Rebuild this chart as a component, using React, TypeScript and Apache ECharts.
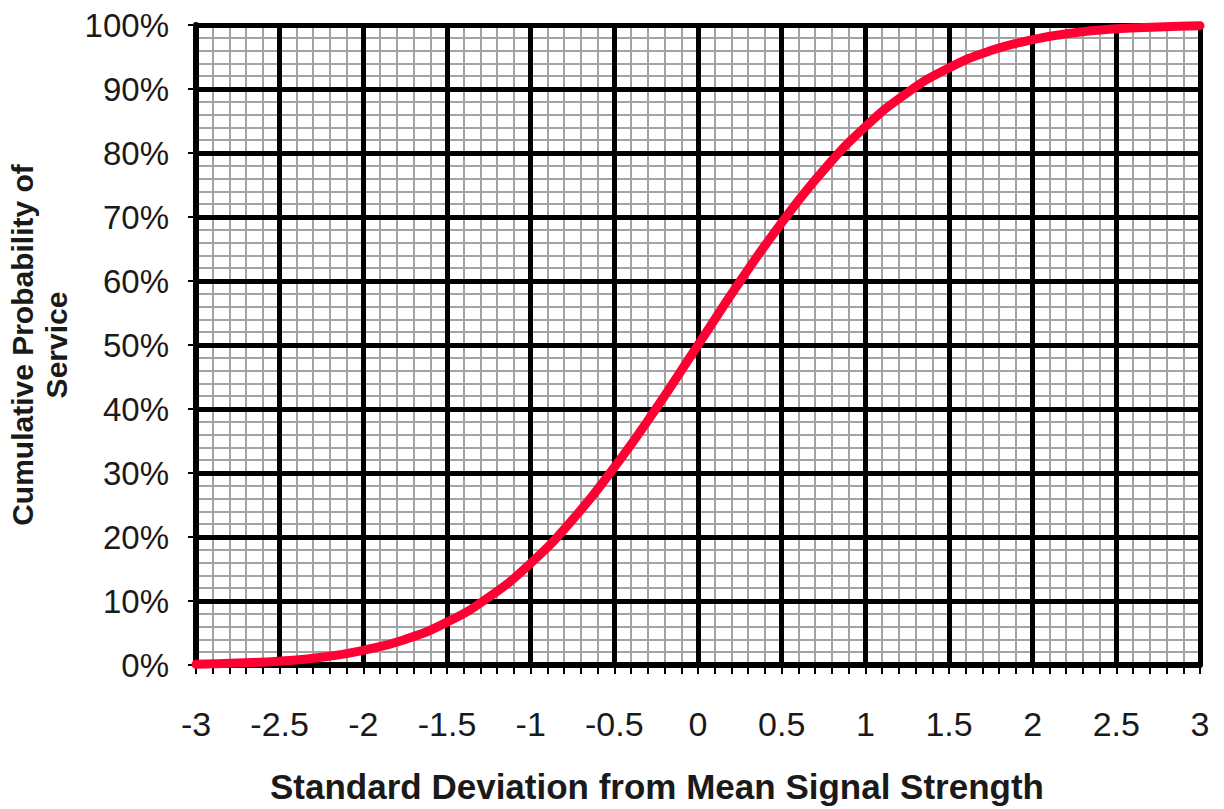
import React, { useEffect, useRef } from "react";
import * as echarts from "echarts";

const xValues = [-3, -2.75, -2.5, -2.25, -2, -1.75, -1.5, -1.25, -1, -0.75, -0.5, -0.25, 0, 0.25, 0.5, 0.75, 1, 1.25, 1.5, 1.75, 2, 2.25, 2.5, 2.75, 3];
const probValues = [0.1, 0.3, 0.6, 1.2, 2.3, 4.0, 6.7, 10.6, 15.9, 22.7, 30.9, 40.1, 50, 59.9, 69.1, 77.3, 84.1, 89.4, 93.3, 96.0, 97.7, 98.8, 99.4, 99.7, 99.9];
const xTitle = "Standard Deviation from Mean Signal Strength";
const yTitle = "Cumulative Probability of\nService";

export default function App() {
  const ref = useRef<HTMLDivElement>(null);
  useEffect(() => {
    document.body.style.margin = "0";
    const chart = echarts.init(ref.current!, null, { renderer: "svg" });
    const font = "Liberation Sans, Arial, sans-serif";
    chart.setOption({
      animation: false,
      backgroundColor: "#ffffff",
      grid: { left: 196, right: 24, top: 25, bottom: 144, outerBoundsMode: "none", containLabel: false },
      graphic: [
        {
          type: "text",
          x: 657,
          y: 786,
          style: {
            text: xTitle,
            fontSize: 35,
            fontWeight: "bold",
            fontFamily: font,
            fill: "#1a1a1a",
            textAlign: "center",
            textVerticalAlign: "middle",
          },
        },
      ],
      xAxis: [
        {
          type: "value", min: -3, max: 3, interval: 0.1, z: 0, position: "bottom", offset: 0,
          axisLine: { show: false },
          axisLabel: { show: false },
          axisTick: { show: true, inside: false, length: 9, lineStyle: { color: "#000", width: 2 } },
          splitLine: { show: true, lineStyle: { color: "#a3a3a3", width: 2 } },
        },
        {
          type: "value", min: -3, max: 3, interval: 0.5, z: 1, position: "bottom", offset: 0,
          axisLine: { show: true, onZero: false, lineStyle: { color: "#000", width: 6 } },
          axisTick: { show: false },
          axisLabel: { show: true, margin: 42, fontSize: 34, color: "#1a1a1a", fontFamily: font },
          splitLine: { show: true, lineStyle: { color: "#000", width: 5 } },
        },
      ],
      yAxis: [
        {
          type: "value", min: 0, max: 100, interval: 2, z: 0, position: "left", offset: 0,
          axisLine: { show: false },
          axisLabel: { show: false },
          axisTick: { show: false },
          splitLine: { show: true, lineStyle: { color: "#a3a3a3", width: 2 } },
        },
        {
          type: "value", min: 0, max: 100, interval: 10, z: 1, position: "left", offset: 0,
          axisLine: { show: true, onZero: false, lineStyle: { color: "#000", width: 6 } },
          axisTick: { show: true, length: 8, lineStyle: { color: "#000", width: 2 } },
          axisLabel: { show: true, margin: 27, fontSize: 33, color: "#1a1a1a", fontFamily: font, formatter: "{value}%" },
          splitLine: { show: true, lineStyle: { color: "#000", width: 5 } },
          name: yTitle, nameLocation: "middle", nameGap: 104, nameRotate: 90,
          nameTextStyle: { fontSize: 30, fontWeight: "bold", color: "#1a1a1a", fontFamily: font, lineHeight: 34 },
        },
      ],
      series: [
        {
          type: "line",
          xAxisIndex: 1, yAxisIndex: 1,
          data: xValues.map((x, i) => [x, probValues[i]]),
          smooth: true,
          showSymbol: false,
          z: 5,
          lineStyle: { color: "#ff0033", width: 9, cap: "round", join: "round" },
        },
      ],
    });
    return () => chart.dispose();
  }, []);
  return <div ref={ref} style={{ position: "fixed", left: 0, top: 0, width: 1224, height: 809 }} />;
}
